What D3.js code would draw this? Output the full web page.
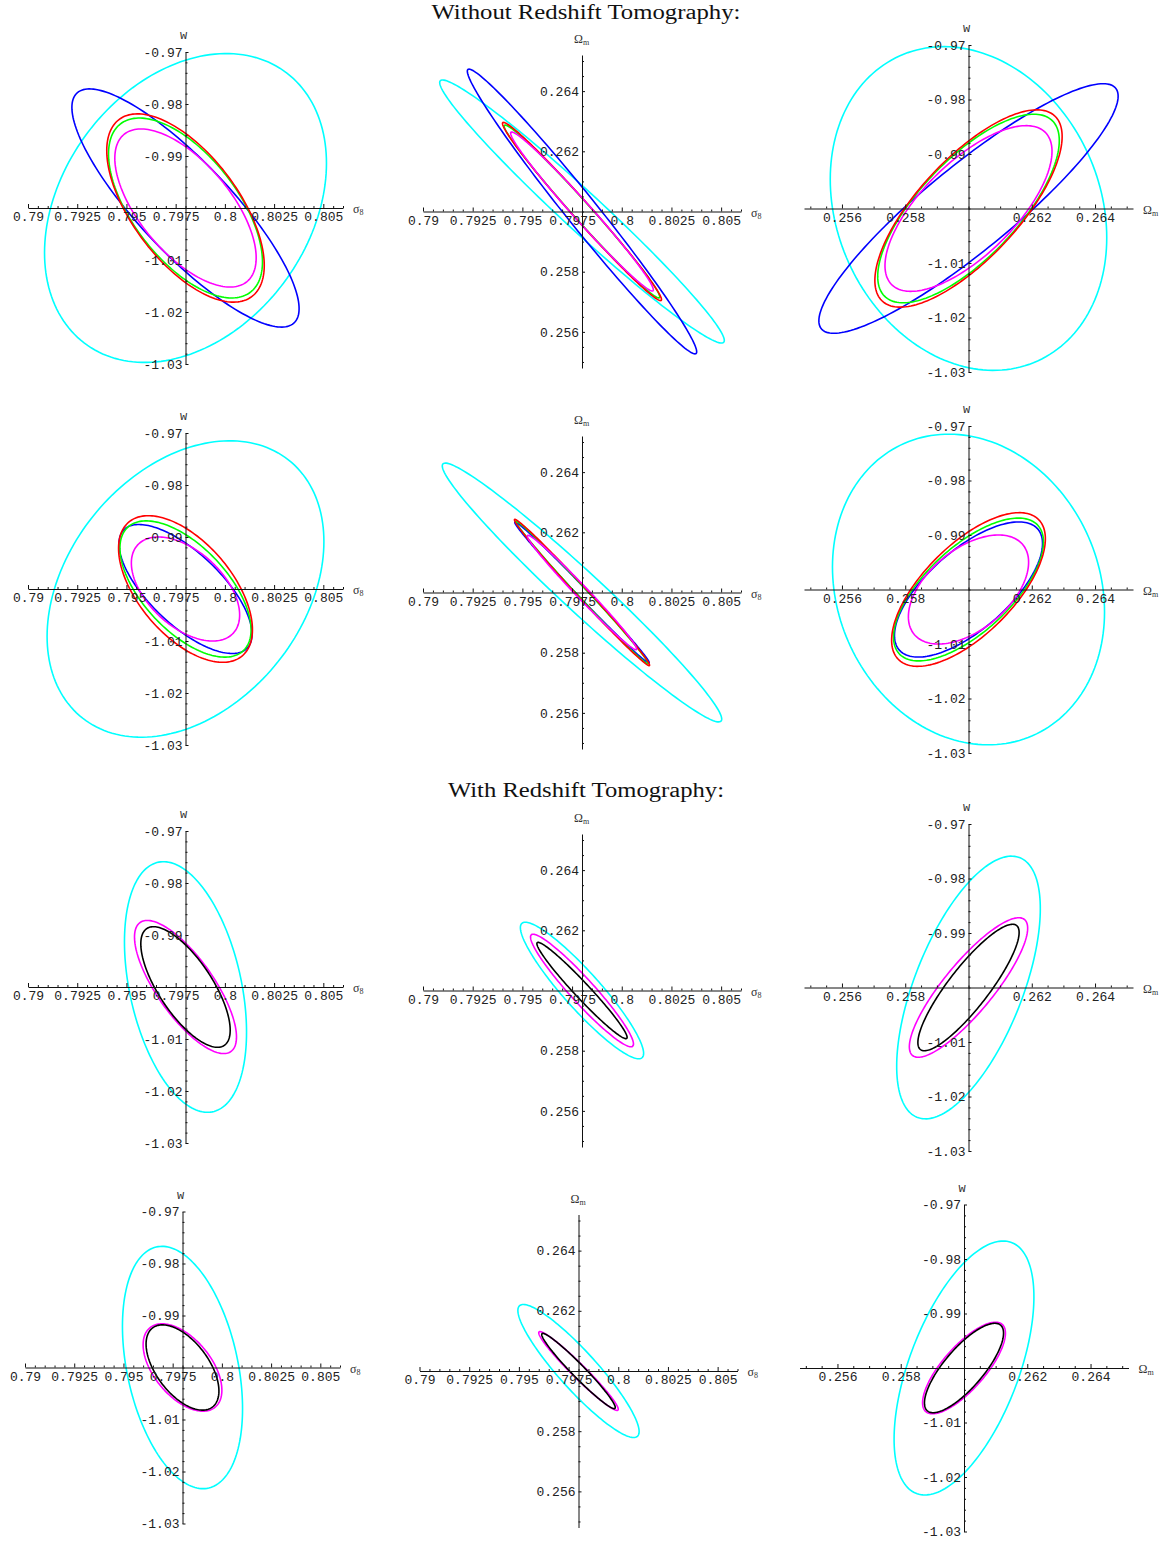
<!DOCTYPE html>
<html>
<head>
<meta charset="utf-8">
<script src="https://cdn.jsdelivr.net/npm/d3@7"></script>
<style>
  body { margin: 0; background: #fff; }
</style>
</head>
<body>
<svg id="chart" width="1172" height="1541"></svg>
<script>
// Parameter order used by every extent / correlation array below: [σ8, Ωm, w]
const paramNames = ["σ8", "Ωm", "w"];
const fiducial = [0.798, 0.26, -1.0];

// Plot ranges and ticks for each parameter
const sigma8Range = [0.79, 0.806];
const omegaRange = [0.2548, 0.2652];
const wRange = [-1.03, -0.97];

const sigma8Ticks = [0.79, 0.7925, 0.795, 0.7975, 0.8, 0.8025, 0.805];
const sigma8TickLabels = ["0.79", "0.7925", "0.795", "0.7975", "0.8", "0.8025", "0.805"];
const omegaTicks = [0.256, 0.258, 0.262, 0.264];
const omegaTickLabels = ["0.256", "0.258", "0.262", "0.264"];
const wTicks = [-0.97, -0.98, -0.99, -1.01, -1.02, -1.03];
const wTickLabels = ["-0.97", "-0.98", "-0.99", "-1.01", "-1.02", "-1.03"];

const sigma8MinorStep = 0.0005;
const omegaMinorStep = 0.0005;
const wMinorStep = 0.002;

// Section headings
const sectionTitles = ["Without Redshift Tomography:", "With Redshift Tomography:"];

// Contour half-extents [σ8, Ωm, w] and correlations [ρ(σ8,Ωm), ρ(σ8,w), ρ(Ωm,w)]
// Row 1 (without tomography): cyan, blue, green, red, magenta
const row1Extents = [
  [0.00716, 0.00437, 0.0297],
  [0.00577, 0.00473, 0.0229],
  [0.00391, 0.00287, 0.0173],
  [0.00400, 0.00296, 0.0181],
  [0.00359, 0.00264, 0.0152]
];
const row1Corr = [
  [-0.980, 0.29, -0.18],
  [-0.985, -0.845, 0.90],
  [-0.988, -0.60, 0.72],
  [-0.988, -0.61, 0.73],
  [-0.985, -0.63, 0.69]
];

// Row 2 (without tomography): cyan, blue, green, red, magenta
const row2Extents = [
  [0.00703, 0.00430, 0.0285],
  [0.00338, 0.00234, 0.0124],
  [0.00333, 0.00237, 0.0131],
  [0.00340, 0.00243, 0.0141],
  [0.00275, 0.00190, 0.0100]
];
const row2Corr = [
  [-0.978, 0.32, -0.145],
  [-0.995, -0.70, 0.68],
  [-0.995, -0.60, 0.665],
  [-0.994, -0.555, 0.66],
  [-0.988, -0.50, 0.50]
];

// Row 3 (with tomography): cyan, magenta, black
const row3Extents = [
  [0.00310, 0.00227, 0.0241],
  [0.00259, 0.00187, 0.0128],
  [0.00227, 0.00160, 0.0116]
];
const row3Corr = [
  [-0.92, -0.36, 0.60],
  [-0.95, -0.75, 0.85],
  [-0.973, -0.715, 0.87]
];

// Row 4 (with tomography): cyan, magenta, black
const row4Extents = [
  [0.00305, 0.00221, 0.0233],
  [0.00200, 0.00131, 0.0084],
  [0.00185, 0.00125, 0.0082]
];
const row4Corr = [
  [-0.91, -0.34, 0.56],
  [-0.97, -0.52, 0.76],
  [-0.97, -0.55, 0.78]
];

// ---- styling ----
const colorsFive = ["#00ffff", "#0000ff", "#00ff00", "#ff0000", "#ff00ff"];
const colorsThree = ["#00ffff", "#ff00ff", "#000000"];

const rows = [
  { extents: row1Extents, corr: row1Corr, colors: colorsFive },
  { extents: row2Extents, corr: row2Corr, colors: colorsFive },
  { extents: row3Extents, corr: row3Corr, colors: colorsThree },
  { extents: row4Extents, corr: row4Corr, colors: colorsThree }
];

const axisDefs = [
  { domain: sigma8Range, ticks: sigma8Ticks, labels: sigma8TickLabels, minor: sigma8MinorStep },
  { domain: omegaRange, ticks: omegaTicks, labels: omegaTickLabels, minor: omegaMinorStep },
  { domain: wRange, ticks: wTicks, labels: wTickLabels, minor: wMinorStep }
];

// columns: [x parameter, y parameter, correlation index]
const columns = [[0, 2, 1], [0, 1, 0], [1, 2, 2]];

// pixel frame of each column in the first row
const colFrames = [
  { x: [28, 343], y: [364, 52] },
  { x: [423, 741], y: [368, 55] },
  { x: [804, 1133], y: [372, 45] }
];
const rowShiftY = [0, 381, 779, 1159.5];
const rowShiftX = [[0, 0, 0], [0, 0, 0], [0, 0, 0], [-3, -3.5, -4.5]];

const svg = d3.select("#chart");
svg.append("rect").attr("width", 1172).attr("height", 1541).attr("fill", "#fff");

// headings
const titleY = [19, 797];
const titleLen = [309, 276];
sectionTitles.forEach((t, i) => {
  svg.append("text")
    .attr("x", 586).attr("y", titleY[i])
    .attr("text-anchor", "middle")
    .attr("font-family", "Liberation Serif, serif")
    .attr("font-size", 20)
    .attr("textLength", titleLen[i])
    .attr("lengthAdjust", "spacingAndGlyphs")
    .attr("fill", "#111")
    .text(t);
});

function minorValues(def) {
  const [lo, hi] = def.domain;
  const s = def.minor;
  return d3.range(Math.ceil(lo / s - 1e-9), Math.floor(hi / s + 1e-9) + 1)
    .map(k => +(k * s).toFixed(6))
    .filter(v => !def.ticks.some(t => Math.abs(t - v) < s / 10));
}

function styleAxis(g) {
  g.attr("font-family", "Liberation Mono, monospace").attr("font-size", 13);
  g.selectAll("line").attr("stroke", "#111");
  g.selectAll("path.domain").attr("stroke", "#111").attr("stroke-width", 1);
  g.selectAll("text").attr("fill", "#222");
}

function axisLabel(g, x, y, main, sub, family, anchor) {
  const t = g.append("text")
    .attr("x", x).attr("y", y)
    .attr("font-family", family)
    .attr("font-size", 12)
    .attr("fill", "#333")
    .attr("text-anchor", anchor || "start");
  t.append("tspan").text(main);
  if (sub) t.append("tspan").attr("font-size", 8).attr("dy", 2).text(sub);
}

rows.forEach((row, r) => {
  columns.forEach(([px, py, ci], c) => {
    const f = colFrames[c];
    const dx = rowShiftX[r][c], dy = rowShiftY[r];
    const xDef = axisDefs[px], yDef = axisDefs[py];
    const x = d3.scaleLinear().domain(xDef.domain).range([f.x[0] + dx, f.x[1] + dx]);
    const y = d3.scaleLinear().domain(yDef.domain).range([f.y[0] + dy, f.y[1] + dy]);
    const ox = x(fiducial[px]), oy = y(fiducial[py]);
    const g = svg.append("g");

    // contours
    const line = d3.line().x(d => x(d[0])).y(d => y(d[1])).curve(d3.curveLinearClosed);
    const angles = d3.range(0, 360, 2).map(a => a * Math.PI / 180);
    row.extents.forEach((ext, k) => {
      const a = ext[px], b = ext[py], rho = row.corr[k][ci];
      const s = Math.sqrt(1 - rho * rho);
      const pts = angles.map(t => [
        fiducial[px] + a * Math.cos(t),
        fiducial[py] + b * (rho * Math.cos(t) + s * Math.sin(t))
      ]);
      g.append("path")
        .attr("d", line(pts))
        .attr("fill", "none")
        .attr("stroke", row.colors[k])
        .attr("stroke-width", 1.6);
    });

    // horizontal axis through the fiducial point
    const xMinor = g.append("g").attr("transform", `translate(0,${oy})`)
      .call(d3.axisBottom(x).tickValues(minorValues(xDef)).tickFormat("").tickSizeInner(-2).tickSizeOuter(0));
    xMinor.select("path.domain").remove();
    styleAxis(xMinor);
    const xMajor = g.append("g").attr("transform", `translate(0,${oy})`)
      .call(d3.axisBottom(x).tickValues(xDef.ticks)
        .tickFormat((d, i) => xDef.labels[i]).tickSizeInner(-4).tickSizeOuter(0).tickPadding(4));
    styleAxis(xMajor);

    // vertical axis through the fiducial point
    const yMinor = g.append("g").attr("transform", `translate(${ox},0)`)
      .call(d3.axisLeft(y).tickValues(minorValues(yDef)).tickFormat("").tickSizeInner(-2).tickSizeOuter(0));
    yMinor.select("path.domain").remove();
    styleAxis(yMinor);
    const yMajor = g.append("g").attr("transform", `translate(${ox},0)`)
      .call(d3.axisLeft(y).tickValues(yDef.ticks)
        .tickFormat((d, i) => yDef.labels[i]).tickSizeInner(-3).tickSizeOuter(0).tickPadding(3));
    styleAxis(yMajor);

    // axis names
    const xEnd = x.range()[1], yTop = y.range()[1];
    if (px === 0) axisLabel(g, xEnd + 10, oy + 5, "σ", "8", "Liberation Serif, serif");
    else axisLabel(g, xEnd + 10, oy + 5, "Ω", "m", "Liberation Serif, serif");
    if (py === 2) axisLabel(g, ox - 2, yTop - 13, "w", null, "Liberation Mono, monospace", "middle");
    else axisLabel(g, ox - 8, yTop - 12, "Ω", "m", "Liberation Serif, serif");
  });
});
</script>
</body>
</html>
